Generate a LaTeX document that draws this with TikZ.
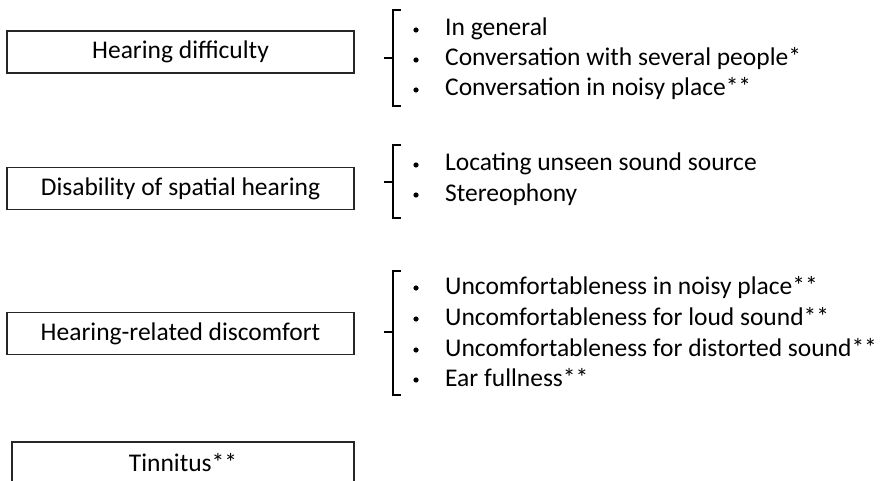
\documentclass[tikz,border=0pt]{standalone}
\usepackage{fontspec}
\setmainfont{Carlito}
\begin{document}
\begin{tikzpicture}[x=1pt,y=-1pt,
  catbox/.style={draw=black!85, line width=1.3pt, minimum width=347pt, minimum height=42pt, inner sep=0pt, font=\fontsize{25.5}{30}\selectfont},
  itemtext/.style={anchor=base west, inner sep=0pt, font=\fontsize{25.5}{30}\selectfont},
  bracket/.style={line width=2pt, black},
  dotmark/.style={fill=black}
]
\clip (0,0) rectangle (880,481);
\fill[white] (0,0) rectangle (880,481);

% category boxes
\node[catbox] (b1) at (180.5,52) {Hearing difficulty};
\node[catbox] (b2) at (180.5,188.5) {Disability of spatial hearing};
\node[catbox] (b3) at (180.5,333.5) {Hearing-related discomfort};
\node[catbox, minimum width=342pt] (b4) at (183,463) {Tinnitus**};

% brackets
\draw[bracket] (401,10) -- (393,10) -- (393,106) -- (401,106);
\draw[bracket] (384,58) -- (393,58);
\draw[bracket] (401,145) -- (393,145) -- (393,218) -- (401,218);
\draw[bracket] (384,182) -- (393,182);
\draw[bracket] (401,271) -- (393,271) -- (393,395) -- (401,395);
\draw[bracket] (384,332) -- (393,332);

% bullets
\foreach \yy in {30,60,90,165,195,288,319,350,380}
  \fill[dotmark] (416,\yy) circle (2.6pt);

% items
\node[itemtext] (i1) at (445,36) {In general};
\node[itemtext] (i2) at (445,66) {Conversation with several people*};
\node[itemtext] (i3) at (445,96) {Conversation in noisy place**};
\node[itemtext] (i4) at (445,171) {Locating unseen sound source};
\node[itemtext] (i5) at (445,201) {Stereophony};
\node[itemtext] (i6) at (445,294) {Uncomfortableness in noisy place**};
\node[itemtext] (i7) at (445,325) {Uncomfortableness for loud sound**};
\node[itemtext] (i8) at (445,356) {Uncomfortableness for distorted sound**};
\node[itemtext] (i9) at (445,386) {Ear fullness**};
\end{tikzpicture}
\end{document}
